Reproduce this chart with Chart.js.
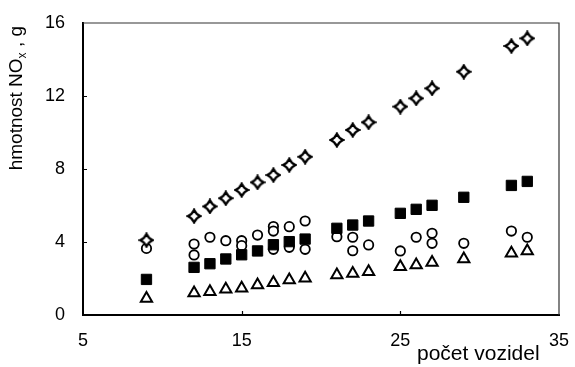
<!DOCTYPE html>
<html>
<head>
<meta charset="utf-8">
<script src="https://cdn.jsdelivr.net/npm/chart.js@4"></script>
<style>
  html, body { margin: 0; padding: 0; background: #fff; }
</style>
</head>
<body>
<canvas id="graf" width="575" height="367"></canvas>
<script>
  // Počet vozidel (osa x) a hmotnosti NOx v g pro jednotlivé řady.
  const vozidla = [9, 12, 13, 14, 15, 16, 17, 18, 19, 21, 22, 23, 25, 26, 27, 29, 32, 33];
  const kosoctverce = [4.1, 5.42, 5.95, 6.4, 6.85, 7.27, 7.67, 8.22, 8.67, 9.59, 10.14, 10.56, 11.42, 11.87, 12.42, 13.33, 14.74, 15.16];
  const ctverce = [1.95, 2.61, 2.81, 3.07, 3.3, 3.51, 3.85, 4.02, 4.16, 4.75, 4.93, 5.15, 5.57, 5.79, 6.01, 6.45, 7.1, 7.32];
  const trojuhelniky = [0.9, 1.2, 1.28, 1.41, 1.46, 1.64, 1.77, 1.92, 2.01, 2.19, 2.28, 2.37, 2.65, 2.74, 2.87, 3.07, 3.38, 3.51];
  // Kroužky mají u některých počtů vozidel víc měření.
  const kruhyX = [9, 12, 12, 13, 14, 15, 15, 16, 17, 17, 17, 18, 18, 19, 19, 21, 22, 22, 23, 25, 26, 27, 27, 29, 32, 33];
  const kruhyY = [3.65, 3.89, 3.29, 4.26, 4.07, 4.07, 3.8, 4.38, 4.85, 4.6, 3.6, 4.84, 3.71, 5.15, 3.6, 4.29, 4.26, 3.52, 3.84, 3.51, 4.26, 4.48, 3.93, 3.93, 4.6, 4.26];

  const xTicks = [5, 15, 25, 35];
  const yTicks = [0, 4, 8, 12, 16];

  const FONT = '"Liberation Sans", Arial, sans-serif';

  // Excelovský kosočtverec s mírně prohnutými stranami.
  function kosoctverecZnacka() {
    const c = document.createElement('canvas');
    c.width = 16;
    c.height = 16;
    const g = c.getContext('2d');
    const m = 8, r = 6.3, k = 0.3;
    g.beginPath();
    g.moveTo(m, m - r);
    g.quadraticCurveTo(m + r * k, m - r * k, m + r, m);
    g.quadraticCurveTo(m + r * k, m + r * k, m, m + r);
    g.quadraticCurveTo(m - r * k, m + r * k, m - r, m);
    g.quadraticCurveTo(m - r * k, m - r * k, m, m - r);
    g.closePath();
    g.fillStyle = '#fff';
    g.fill();
    g.lineWidth = 2.2;
    g.strokeStyle = '#000';
    g.stroke();
    return c;
  }

  const body = (ys) => vozidla.map((x, i) => ({ x: x, y: ys[i] }));

  // Horní a pravý rámeček, vnitřní značky os a popisky os.
  const ramecek = {
    id: 'ramecek',
    afterDraw(chart) {
      const { ctx, chartArea: a, scales } = chart;
      ctx.save();
      ctx.strokeStyle = '#333';
      ctx.lineWidth = 1.2;
      ctx.beginPath();
      ctx.moveTo(a.left, a.top);
      ctx.lineTo(a.right, a.top);
      ctx.lineTo(a.right, a.bottom);
      ctx.stroke();

      ctx.strokeStyle = '#000';
      ctx.lineWidth = 1.2;
      ctx.beginPath();
      yTicks.slice(1, -1).forEach((v) => {
        const y = Math.round(scales.y.getPixelForValue(v)) + 0.5;
        ctx.moveTo(a.left, y);
        ctx.lineTo(a.left + 4, y);
      });
      xTicks.slice(1, -1).forEach((v) => {
        const x = Math.round(scales.x.getPixelForValue(v)) + 0.5;
        ctx.moveTo(x, a.bottom);
        ctx.lineTo(x, a.bottom - 4);
      });
      ctx.stroke();

      ctx.fillStyle = '#000';
      // osa y: "hmotnost NOx , g" s dolním indexem
      const casti = [
        ['hmotnost NO', '19px ' + FONT, 0],
        ['x', '12px ' + FONT, 4],
        [' , g', '19px ' + FONT, 0],
      ];
      let w = 0;
      casti.forEach((p) => { ctx.font = p[1]; w += ctx.measureText(p[0]).width; });
      ctx.translate(22, a.top + 3 + w);
      ctx.rotate(-Math.PI / 2);
      ctx.textBaseline = 'alphabetic';
      let pos = 0;
      casti.forEach((p) => {
        ctx.font = p[1];
        ctx.fillText(p[0], pos, p[2]);
        pos += ctx.measureText(p[0]).width;
      });
      ctx.setTransform(1, 0, 0, 1, 0, 0);

      ctx.font = '21px ' + FONT;
      ctx.textAlign = 'left';
      ctx.fillText('počet vozidel', 417, 360);
      ctx.restore();
    },
  };

  const bezOkraje = (s) => {
    s.paddingLeft = 0;
    s.paddingRight = 0;
    s.paddingTop = 0;
    s.paddingBottom = 0;
  };

  new Chart(document.getElementById('graf'), {
    type: 'scatter',
    data: {
      datasets: [
        {
          data: body(ctverce),
          pointStyle: 'rect',
          pointRadius: 7.3,
          pointBackgroundColor: '#000',
          pointBorderColor: '#000',
          pointBorderWidth: 1,
        },
        {
          data: body(kosoctverce),
          pointStyle: kosoctverecZnacka(),
        },
        {
          data: body(trojuhelniky),
          pointStyle: 'triangle',
          pointRadius: 6.5,
          pointBackgroundColor: '#fff',
          pointBorderColor: '#000',
          pointBorderWidth: 2,
        },
        {
          data: kruhyX.map((x, i) => ({ x: x, y: kruhyY[i] })),
          pointStyle: 'circle',
          pointRadius: 4.7,
          pointBackgroundColor: '#fff',
          pointBorderColor: '#000',
          pointBorderWidth: 1.8,
        },
      ],
    },
    options: {
      responsive: false,
      animation: false,
      events: [],
      layout: { padding: { left: 0, right: 16, top: 23, bottom: 0 } },
      plugins: {
        legend: { display: false },
        tooltip: { enabled: false },
      },
      scales: {
        x: {
          type: 'linear',
          min: 5,
          max: 35,
          afterBuildTicks: (s) => { s.ticks = xTicks.map((v) => ({ value: v })); },
          afterFit: (s) => { s.height = 52; bezOkraje(s); },
          grid: { display: false, drawTicks: false },
          border: { color: '#000', width: 2 },
          ticks: { color: '#000', padding: 15, maxRotation: 0, font: { family: FONT, size: 18 } },
        },
        y: {
          min: 0,
          max: 16,
          afterBuildTicks: (s) => { s.ticks = yTicks.map((v) => ({ value: v })); },
          afterFit: (s) => { s.width = 83; bezOkraje(s); },
          grid: { display: false, drawTicks: false },
          border: { color: '#000', width: 2 },
          ticks: { color: '#000', padding: 18, font: { family: FONT, size: 18 } },
        },
      },
    },
    plugins: [ramecek],
  });
</script>
</body>
</html>
